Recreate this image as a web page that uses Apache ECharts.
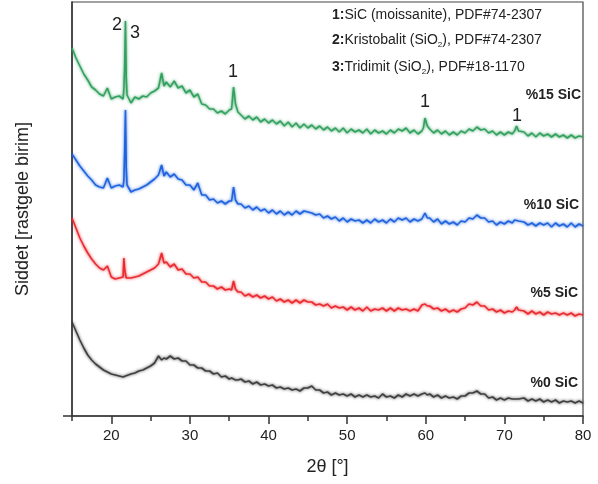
<!DOCTYPE html>
<html><head><meta charset="utf-8">
<script src="https://cdn.jsdelivr.net/npm/echarts@6/dist/echarts.min.js"></script>
<style>html,body{margin:0;padding:0;background:#fff}#c{width:598px;height:484px}</style>
</head><body><div id="c"></div>
<script>
// 2θ sampling positions (degrees)
const twoTheta = [
  15,15.5,16,16.5,17,17.5,18,18.5,19,19.5,20,20.5,21,21.5,
  21.6,21.7,21.8,21.9,22.0,
  22.5,23,23.5,24,24.5,25,25.5,26,
  26.4,26.7,27,27.5,28,28.5,29,29.5,30,30.5,31,31.5,32,32.5,33,33.5,34,34.5,35,35.3,
  35.55,35.8,36.1,
  36.5,37,37.5,38,38.5,39,39.5,40,40.5,41,41.5,42,42.5,43,43.5,44,44.5,45,45.5,46,46.5,47,47.5,48,48.5,49,49.5,50,50.5,51,51.5,52,52.5,53,53.5,54,54.5,55,55.5,56,56.5,57,57.5,58,58.5,59,59.5,
  59.7,59.9,60.2,
  60.5,61,61.5,62,62.5,63,63.5,64,64.5,65,65.5,66,66.5,67,67.5,68,68.5,69,69.5,70,70.5,71,
  71.3,71.55,71.8,
  72.5,73,73.5,74,74.5,75,75.5,76,76.5,77,77.5,78,78.5,79,79.5,80
];
// intensities (arbitrary units, stacked offsets as in the figure)
const sic15 = [
  369,359,351,343,337,330,327,323,321,329,318,320,321,318,
  329,350,396,340,322,
  314,320,318,321,320,324,326,329,
  344,331,335,330,336,329,331,324,327,320,323,313,312,308,308,304,306,303,307,308,
  330,313,305,
  302,298,301,297,300,295,298,294,297,293,296,291,295,290,294,289,293,289,292,288,291,287,290,286,289,285,289,284,288,285,287,284,288,283,287,284,286,283,287,284,288,286,289,284,287,283,286,
  289,299,291,
  288,284,287,283,286,282,285,282,286,284,288,286,290,287,288,284,286,282,285,282,285,283,
  286,291,286,
  285,281,284,280,284,281,283,280,283,280,282,279,282,279,281,280
];
const sic10 = [
  263,257,251,246,241,237,232,230,229,239,229,231,232,230,
  237,265,307,250,232,
  225,227,228,230,232,235,238,242,
  252,241,245,240,243,238,237,232,232,227,234,222,222,217,218,214,216,213,216,216,
  230,217,213,
  213,209,211,207,210,206,208,204,207,203,206,202,205,202,206,203,206,205,204,202,203,199,201,198,200,196,199,195,198,196,197,194,197,194,198,195,197,194,198,195,199,197,199,195,198,196,198,
  199,204,199,
  199,195,198,193,196,193,195,192,196,195,199,198,202,199,199,195,196,192,195,193,196,194,
  197,198,196,
  195,192,194,191,194,192,194,190,194,191,193,190,194,190,193,191
];
const sic5 = [
  199,189,179,171,164,158,153,149,147,151,140,138,139,140,
  159,148,143,139,138,
  139,140,141,143,145,147,149,153,
  164,154,155,150,153,147,148,143,143,139,140,135,135,131,131,128,130,127,128,127,
  136,128,125,
  125,121,123,120,122,119,121,118,120,116,118,115,117,114,117,114,117,115,115,112,113,111,113,109,111,109,110,107,110,107,109,106,110,106,108,107,109,106,109,106,109,107,108,106,108,106,112,
  114,113,111,
  111,108,109,106,108,105,107,105,108,109,113,112,115,111,111,107,108,105,107,104,106,105,
  107,110,107,
  106,103,106,103,105,102,105,103,104,102,104,102,104,101,103,102
];
const sic0 = [
  95,86,77,69,62,57,53,50,47,45,43,42,41,40,
  41,40,41,42,41,
  43,44,46,47,49,51,54,61,
  57,59,58,61,58,59,56,56,52,52,49,49,46,46,43,44,40,41,38,39,
  38,37,37,
  38,35,36,33,35,32,33,31,32,29,30,28,29,27,28,26,29,29,31,27,27,24,25,22,24,22,23,21,23,20,22,20,22,20,21,19,23,20,21,19,22,20,23,21,23,21,23,
  23,24,22,
  23,20,22,19,21,19,20,18,21,21,24,24,26,23,23,19,20,17,19,17,19,18,
  18,19,18,
  19,16,18,16,18,15,17,15,17,14,16,15,16,14,16,14
];
const majorTicks = [20,30,40,50,60,70,80];
const minorTicks = [15,25,35,45,55,65,75];
const seriesNames = ['%0 SiC','%5 SiC','%10 SiC','%15 SiC'];
const seriesColors = ['#3a3a3a','#e8262b','#1a5fdc','#2e9e5b'];
const seriesData = [sic0, sic5, sic10, sic15];

const FONT = 'Liberation Sans, Arial, sans-serif';
const chart = echarts.init(document.getElementById('c'), null, {renderer:'canvas'});

function txt(x, y, s, opts) {
  return {
    type:'text', x:x, y:y, z:100,
    style: Object.assign({text:s, fontFamily:FONT, fontSize:18, fill:'#222', align:'center', verticalAlign:'middle'}, opts||{})
  };
}
const legendRich = {
  b:{fontFamily:FONT, fontSize:14, fontWeight:'bold', fill:'#222'},
  s:{fontFamily:FONT, fontSize:8, fill:'#222', padding:[10,0,0,0]}
};

chart.setOption({
  animation:false,
  backgroundColor:'#fff',
  grid:{left:72, right:15, top:2, bottom:68, show:true, borderColor:'#444', borderWidth:1.2},
  xAxis:[{
    type:'value', min:15, max:80, interval:5,
    axisLine:{show:true, lineStyle:{color:'#333', width:1.5}},
    axisTick:{show:true, customValues:majorTicks, length:8, lineStyle:{color:'#333', width:1.5}},
    axisLabel:{show:true, customValues:majorTicks, fontFamily:FONT, fontSize:15, color:'#222', margin:12},
    splitLine:{show:false},
    name:'2θ [°]', nameLocation:'middle', nameGap:42,
    nameTextStyle:{fontFamily:FONT, fontSize:18, color:'#222'}
  },{
    type:'value', min:15, max:80, interval:5, position:'bottom',
    axisLine:{show:false},
    axisTick:{show:true, customValues:minorTicks, length:5, lineStyle:{color:'#333', width:1.5}},
    axisLabel:{show:false}, splitLine:{show:false}
  }],
  yAxis:{
    type:'value', min:1, max:415,
    axisLine:{show:true, lineStyle:{color:'#333', width:1.5}},
    axisTick:{show:false}, axisLabel:{show:false}, splitLine:{show:false},
    name:'Siddet [rastgele birim]', nameLocation:'middle', nameGap:40,
    nameTextStyle:{fontFamily:FONT, fontSize:18, color:'#222'}
  },
  series: seriesData.map((arr, k) => ({
    type:'line', name:seriesNames[k], xAxisIndex:0,
    data: twoTheta.map((x,i)=>[x, arr[i]]),
    showSymbol:false, symbol:'none', smooth:false,
    lineStyle:{color:seriesColors[k], width:1.6, opacity:0.95, shadowBlur:3, shadowColor:seriesColors[k]},
    z: 2+k
  })),
  graphic:[
    txt(117, 25, '2'),
    txt(135, 33, '3'),
    txt(233, 72, '1'),
    txt(425, 102, '1'),
    txt(517, 116, '1'),
    txt(581, 95, '%15 SiC', {fontSize:14, fontWeight:'bold', align:'right'}),
    txt(579, 205, '%10 SiC', {fontSize:14, fontWeight:'bold', align:'right'}),
    txt(578, 293, '%5 SiC', {fontSize:14, fontWeight:'bold', align:'right'}),
    txt(578, 383, '%0 SiC', {fontSize:14, fontWeight:'bold', align:'right'}),
    txt(332, 15, '{b|1:}SiC (moissanite), PDF#74-2307', {fontSize:14, align:'left', rich:legendRich}),
    txt(332, 40, '{b|2:}Kristobalit (SiO{s|2}), PDF#74-2307', {fontSize:14, align:'left', rich:legendRich}),
    txt(332, 67, '{b|3:}Tridimit (SiO{s|2}), PDF#18-1170', {fontSize:14, align:'left', rich:legendRich}),
    {type:'line', z:100, shape:{x1:63, y1:416, x2:72, y2:416}, style:{stroke:'#333', lineWidth:1.5}}
  ]
});
</script>
</body></html>
